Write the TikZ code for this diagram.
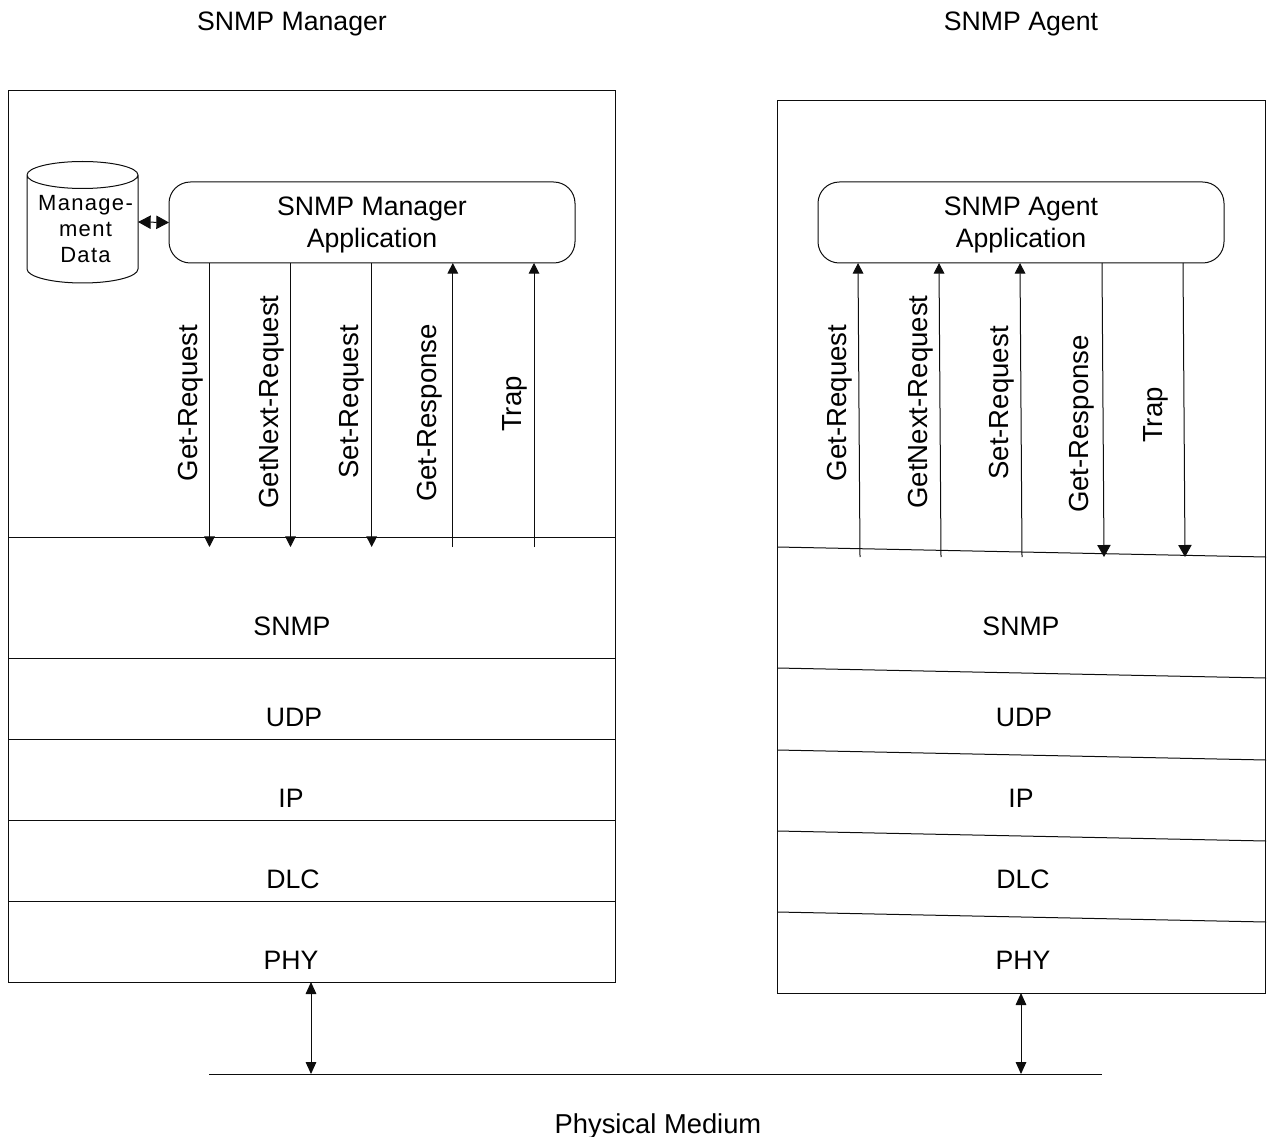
\documentclass[tikz,border=0pt]{standalone}
\usepackage{fontspec}
\setmainfont{Liberation Sans}
\newfontfamily\spacedfont[LetterSpace=6]{Liberation Sans}
\usetikzlibrary{arrows.meta,calc}
\definecolor{linec}{gray}{0.05}
\tikzset{
  x=0.75pt,y=-0.75pt,
  every node/.style={inner sep=0pt,outer sep=0pt,font=\fontsize{20}{24}\selectfont},
  lbl/.style={align=center,anchor=center},
  vlbl/.style={rotate=90,anchor=center,font=\fontsize{20.7}{24}\selectfont},
  wire/.style={draw=linec,line width=0.75pt},
  box/.style={draw=linec,line width=0.75pt},
  appbox/.style={draw=linec,line width=0.75pt,rounded corners=16pt,minimum width=304.5pt,minimum height=60.75pt,align=center},
  tipa/.style={wire,-{Triangle[length=8pt,width=8pt]}},
  tipb/.style={wire,{Triangle[length=9pt,width=8pt]}-{Triangle[length=9pt,width=8pt]}},
  tipc/.style={wire,-{Triangle[length=9pt,width=10pt]}},
  tipd/.style={wire,{Triangle[length=9.5pt,width=10pt]}-{Triangle[length=9.5pt,width=10pt]}},
}
\begin{document}
\begin{tikzpicture}
\useasboundingbox (0,0) rectangle (1270,1137);
% titles
\node[lbl] (t1) at (292,24) {SNMP Manager};
\node[lbl] (t2) at (1021,24) {SNMP Agent};
\node[lbl,font=\fontsize{20.5}{24}\selectfont] (t3) at (658,1126) {Physical Medium};
% outer boxes
\draw[box] (8,91) rectangle (615,982);
\draw[box] (777,101) rectangle (1265,993);
\coordinate (lbot) at (311,982);
\coordinate (rbot) at (1021,993);
% left stack lines
\foreach \y in {537,658,739,820,901} \draw[wire] (8,\y) -- (615,\y);
% right stack lines
\foreach \y in {547,668,750,831,912} \draw[wire] (777,\y) -- (1266,\y+10);
% stack labels
\node[lbl] (ls1) at (292,626) {SNMP};
\node[lbl] (ls2) at (294,717) {UDP};
\node[lbl] (ls3) at (291,798) {IP};
\node[lbl] (ls4) at (293,879) {DLC};
\node[lbl] (ls5) at (291,960) {PHY};
\node[lbl] (rs1) at (1021,626) {SNMP};
\node[lbl] (rs2) at (1024,717) {UDP};
\node[lbl] (rs3) at (1021,798) {IP};
\node[lbl] (rs4) at (1023,879) {DLC};
\node[lbl] (rs5) at (1023,960) {PHY};
% applications
\node[appbox] (mapp) at (372,222.5) {\rule{0pt}{18pt}SNMP Manager\\Application};
\node[appbox] (aapp) at (1021,222.5) {\rule{0pt}{18pt}SNMP Agent\\Application};
% database
\draw[box,fill=white] (27,175) arc[start angle=180,end angle=0,x radius=55.5,y radius=13.5]
  arc[start angle=0,end angle=-180,x radius=55.5,y radius=13.5] -- (27,269)
  arc[start angle=180,end angle=0,x radius=55.5,y radius=14] -- (138,175);
\node[lbl,font={\spacedfont\fontsize{16.5}{19.5}\selectfont}] (db) at (85.5,229) {Manage-\\ment\\Data};
\coordinate (dbr) at (138,222);
\draw[tipd] (dbr) -- (mapp.west);
% manager arrows
\foreach \n/\x in {a/209.5,b/290.5,c/371.7} {
  \coordinate (m\n) at (\x,547);
  \draw[tipa] (mapp.south -| m\n) -- (m\n);
}
\foreach \n/\x in {d/452.8,e/534} {
  \coordinate (m\n) at (\x,547);
  \draw[tipa] (m\n) -- (mapp.south -| m\n);
}
% agent arrows
\coordinate (a1t) at (858,263); \coordinate (a1b) at (860,557);
\coordinate (a2t) at (939,263); \coordinate (a2b) at (941,557);
\coordinate (a3t) at (1020,263); \coordinate (a3b) at (1022,557);
\coordinate (a4t) at (1102,263); \coordinate (a4b) at (1104,557);
\coordinate (a5t) at (1183,263); \coordinate (a5b) at (1185,557);
\draw[tipa] (a1b) -- (a1t);
\draw[tipa] (a2b) -- (a2t);
\draw[tipa] (a3b) -- (a3t);
\draw[tipc] (a4t) -- (a4b);
\draw[tipc] (a5t) -- (a5b);
% arrow labels
\node[vlbl] (l1) at (191,403) {Get-Request};
\node[vlbl] (l2) at (272,402) {GetNext-Request};
\node[vlbl] (l3) at (352,402) {Set-Request};
\node[vlbl] (l4) at (430,413) {Get-Response};
\node[vlbl] (l5) at (515,404) {Trap};
\node[vlbl] (r1) at (839.5,403) {Get-Request};
\node[vlbl] (r2) at (920.5,402) {GetNext-Request};
\node[vlbl] (r3) at (1001.5,403) {Set-Request};
\node[vlbl] (r4) at (1081.5,424) {Get-Response};
\node[vlbl] (r5) at (1156,415) {Trap};
% medium
\coordinate (pl) at (209,1074);
\coordinate (pr) at (1102,1074);
\draw[wire] (pl) -- (pr);
\coordinate (pa) at (311,1074);
\coordinate (pb) at (1021,1074);
\draw[tipb] (lbot) -- (pa);
\draw[tipb] (rbot) -- (pb);
\end{tikzpicture}
\end{document}
